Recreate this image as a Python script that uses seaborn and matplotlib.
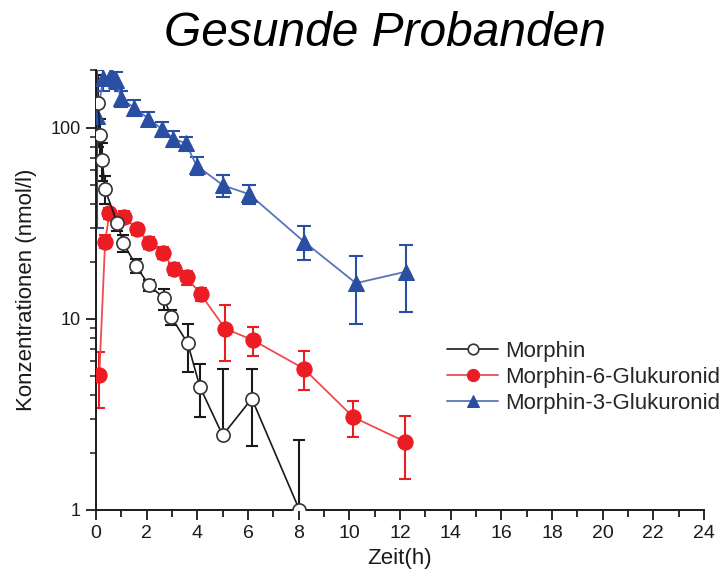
import matplotlib
matplotlib.use("Agg")
import matplotlib.pyplot as plt
from matplotlib import font_manager
from matplotlib.ticker import LogLocator, FixedLocator, MultipleLocator, NullFormatter
import seaborn as sns
import pandas as pd

# Mean plasma concentrations (nmol/l) with SD, healthy volunteers
zeit_morphin = [0.08, 0.17, 0.25, 0.35, 0.83, 1.08, 1.58, 2.09, 2.68, 2.96, 3.62, 4.10, 5.00, 6.15, 8.03]
morphin = [135, 92, 68, 48, 32, 25, 19, 15, 12.9, 10.3, 7.46, 4.42, 2.46, 3.83, 1.0]
morphin_err_lo = [55, 20, 15, 8, 3, 2.5, 1.5, 1.0, 1.8, 1.0, 2.15, 1.35, 0, 1.66, 0]
morphin_err_hi = [55, 20, 15, 8, 3, 2.5, 1.5, 1.0, 1.4, 0.9, 2.0, 1.37, 3.0, 1.62, 1.32]

zeit_m6g = [0.13, 0.36, 0.53, 1.10, 1.63, 2.10, 2.63, 3.08, 3.58, 4.13, 5.10, 6.18, 8.20, 10.16, 12.20]
m6g = [5.09, 25.4, 35.8, 34.3, 29.5, 25.1, 22.2, 18.3, 16.5, 13.5, 8.9, 7.77, 5.5, 3.06, 2.28]
m6g_err = [1.65, 2.0, 2.5, 2.5, 2.0, 1.8, 1.6, 1.3, 1.4, 1.1, 2.9, 1.35, 1.27, 0.65, 0.82]

zeit_m3g = [0.04, 0.29, 0.60, 0.80, 0.98, 1.50, 2.07, 2.59, 3.05, 3.55, 3.97, 5.03, 6.05, 8.21, 10.26, 12.24]
m3g = [115, 182, 189, 178, 143, 128, 112, 99, 88, 83, 63.5, 50, 45, 25.4, 15.4, 17.7]
m3g_err = [85, 25, 20, 18, 14, 12, 10, 9, 8, 7, 7, 6.5, 5.2, 5.1, 6.0, 6.8]

x_ticks = list(range(0, 25, 2))
y_ticks = [1, 10, 100]
y_tick_labels = ["1", "10", "100"]

sns.set_theme(style="ticks")
installed = {f.name for f in font_manager.fontManager.ttflist}
base_font = "Liberation Sans"
narrow_font = "Liberation Sans Narrow" if "Liberation Sans Narrow" in installed else base_font
plt.rcParams["font.family"] = [base_font, "DejaVu Sans"]

fig = plt.figure(figsize=(7.2, 5.78), dpi=100)
ax = fig.add_axes([96 / 720, 1 - 510 / 578, (704 - 96) / 720, (510 - 70.5) / 578])

black = "#1a1a1a"
red = "#ec1c24"
red_line = "#f04a50"
blue = "#2a4ea2"
blue_line = "#5874bb"

df_m = pd.DataFrame({"t": zeit_morphin, "c": morphin})
df_6 = pd.DataFrame({"t": zeit_m6g, "c": m6g})
df_3 = pd.DataFrame({"t": zeit_m3g, "c": m3g})

# error bars
ax.errorbar(zeit_m6g, m6g, yerr=[m6g_err, m6g_err], fmt="none", ecolor=red,
            elinewidth=1.5, capsize=4.5, capthick=1.5, zorder=2)
ax.errorbar(zeit_morphin, morphin, yerr=[morphin_err_lo, morphin_err_hi], fmt="none",
            ecolor=black, elinewidth=1.5, capsize=4, capthick=1.5, zorder=2.2)
ax.errorbar(zeit_m3g, m3g, yerr=[m3g_err, m3g_err], fmt="none", ecolor=blue,
            elinewidth=1.5, capsize=5, capthick=1.5, zorder=2.4)

sns.lineplot(data=df_3, x="t", y="c", ax=ax, color=blue_line, lw=1.3, marker="^",
             markersize=11, markerfacecolor=blue, markeredgecolor=blue,
             label="Morphin-3-Glukuronid", zorder=2.8, sort=False)
sns.lineplot(data=df_6, x="t", y="c", ax=ax, color=red_line, lw=1.3, marker="o",
             markersize=11, markerfacecolor=red, markeredgecolor=red, label="Morphin-6-Glukuronid",
             zorder=3, sort=False)
sns.lineplot(data=df_m, x="t", y="c", ax=ax, color=black, lw=1.2, marker="o",
             markersize=9.5, markerfacecolor="white", markeredgecolor="#333333",
             markeredgewidth=1.2, label="Morphin", zorder=3.2, sort=False)

ax.set_yscale("log")
ax.set_ylim(1, 200)
ax.set_xlim(0, 24)

ax.xaxis.set_major_locator(FixedLocator(x_ticks))
ax.xaxis.set_minor_locator(MultipleLocator(1))
ax.set_xticks(x_ticks)
ax.set_xticklabels([str(v) for v in x_ticks], fontfamily=narrow_font, fontsize=14)

ax.yaxis.set_major_locator(FixedLocator(y_ticks))
ax.yaxis.set_minor_locator(LogLocator(base=10, subs=range(2, 10)))
ax.yaxis.set_minor_formatter(NullFormatter())
ax.set_yticks(y_ticks)
ax.set_yticklabels(y_tick_labels, fontsize=13)

ax.tick_params(axis="both", which="major", direction="out", length=7, width=1.3,
               color=black, labelcolor=black, pad=4)
ax.tick_params(axis="y", which="minor", direction="out", length=4.5, width=1.1, color=black)
ax.tick_params(axis="x", which="minor", direction="out", length=5, width=1.3, color=black)

for side in ("top", "right"):
    ax.spines[side].set_visible(False)
for side in ("left", "bottom"):
    ax.spines[side].set_color(black)
    ax.spines[side].set_linewidth(1.4)

ax.set_xlabel("Zeit(h)", fontsize=16, fontfamily=narrow_font, color=black, labelpad=4)
ax.set_ylabel("Konzentrationen (nmol/l)", fontsize=16, color=black, labelpad=10)

fig.text(385 / 720, 1 - 34 / 578, "Gesunde Probanden", ha="center", va="center",
         fontsize=34.5, fontstyle="italic", color="black")

handles, labels = ax.get_legend_handles_labels()
order = [labels.index(n) for n in ["Morphin", "Morphin-6-Glukuronid", "Morphin-3-Glukuronid"]]
leg = ax.legend([handles[i] for i in order], [labels[i] for i in order],
                loc="upper left", bbox_to_anchor=(447 / 720, 1 - 341 / 578),
                bbox_transform=fig.transFigure, frameon=False, fontsize=16,
                handlelength=2.3, handletextpad=0.3, labelspacing=0.23,
                borderpad=0, borderaxespad=0, markerscale=0.8)
leg.set_zorder(5)

fig.savefig("out.png", dpi=100)
